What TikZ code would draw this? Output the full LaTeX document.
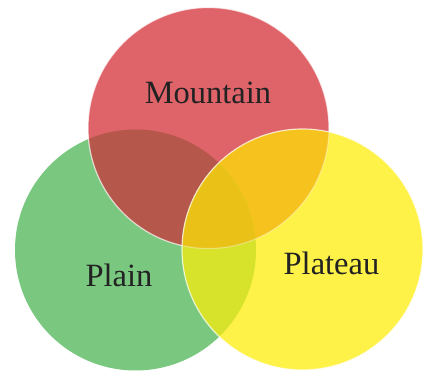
\documentclass[tikz,border=0pt]{standalone}
\usepackage{fontspec}
\setmainfont{Liberation Serif}
\definecolor{cRed}{HTML}{DF646A}
\definecolor{cGreen}{HTML}{7AC880}
\definecolor{cYellow}{HTML}{FEF248}
\definecolor{cRG}{HTML}{B5574A}
\definecolor{cRY}{HTML}{F5C21E}
\definecolor{cYG}{HTML}{D6E32A}
\definecolor{cAll}{HTML}{E9C117}
\definecolor{cText}{HTML}{222222}
\tikzset{
  lbl/.style={anchor=base, text=cText, font=\fontsize{32.5}{38}\selectfont, inner sep=0pt},
  rim/.style={draw=white, draw opacity=0.7, line width=1.2pt}
}
\begin{document}
\begin{tikzpicture}[x=1pt,y=-1pt]
\useasboundingbox (0,0) rectangle (424,371);
\def\rr{120.5}
\coordinate (R) at (208.5,128);
\coordinate (G) at (135.5,250);
\coordinate (Y) at (302.5,249.5);
% base fills
\fill[cGreen] (G) circle (\rr);
\fill[cRed] (R) circle (\rr);
\begin{scope}
  \clip (R) circle (\rr);
  \fill[cRG] (G) circle (\rr);
\end{scope}
\draw[rim] (R) circle (\rr);
\fill[cYellow] (Y) circle (\rr);
\begin{scope}
  \clip (Y) circle (\rr);
  \fill[cRY] (R) circle (\rr);
  \fill[cYG] (G) circle (\rr);
  \begin{scope}
    \clip (R) circle (\rr);
    \fill[cAll] (G) circle (\rr);
  \end{scope}
  \draw[draw=white, draw opacity=0.35, line width=1.2pt] (R) circle (\rr);
\end{scope}
\draw[rim] (Y) circle (\rr);
% labels
\node[lbl] (m) at (208,104) {Mountain};
\node[lbl] (p) at (119,286.5) {Plain};
\node[lbl] (t) at (331.5,275) {Plateau};
\end{tikzpicture}
\end{document}
